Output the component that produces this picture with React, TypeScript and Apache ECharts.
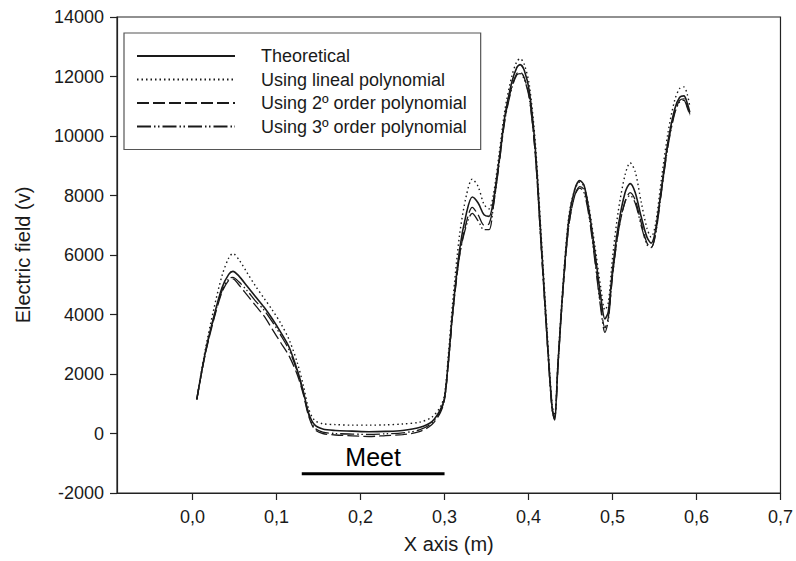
import React, { useEffect, useRef } from 'react';
import * as echarts from 'echarts';

const xValues = [0.005, 0.015, 0.025, 0.035, 0.043, 0.048, 0.055, 0.065, 0.075, 0.085, 0.095, 0.105, 0.115, 0.125, 0.132, 0.138, 0.145, 0.155, 0.17, 0.19, 0.21, 0.23, 0.25, 0.27, 0.285, 0.295, 0.3, 0.305, 0.31, 0.318, 0.326, 0.333, 0.34, 0.347, 0.353, 0.358, 0.365, 0.372, 0.38, 0.386, 0.39, 0.395, 0.401, 0.408, 0.415, 0.422, 0.428, 0.431, 0.435, 0.441, 0.448, 0.455, 0.461, 0.466, 0.472, 0.479, 0.486, 0.491, 0.495, 0.5, 0.507, 0.515, 0.521, 0.527, 0.534, 0.541, 0.546, 0.551, 0.558, 0.566, 0.574, 0.58, 0.585, 0.589, 0.592];

const theoretical = [1150, 2700, 3900, 4900, 5350, 5450, 5300, 4950, 4600, 4250, 3850, 3400, 2900, 2100, 1400, 700, 300, 150, 100, 80, 60, 70, 100, 200, 400, 800, 1200, 2600, 4200, 6200, 7400, 7950, 7750, 7350, 7300, 7800, 9200, 10700, 11800, 12300, 12400, 12200, 11500, 9600, 6500, 3300, 900, 500, 2300, 4900, 7200, 8200, 8500, 8350, 7500, 6100, 4600, 3850, 4100, 5500, 7000, 8100, 8400, 8100, 7300, 6600, 6400, 6800, 8200, 9800, 10900, 11300, 11350, 11100, 10800];

const linealPoly = [1150, 2800, 4150, 5300, 5900, 6050, 5850, 5400, 4950, 4550, 4150, 3700, 3150, 2350, 1600, 850, 450, 330, 300, 280, 280, 290, 320, 380, 550, 900, 1300, 2800, 4500, 6700, 8000, 8550, 8300, 7700, 7550, 8000, 9400, 10900, 12000, 12500, 12600, 12400, 11700, 9800, 6700, 3500, 1000, 600, 2400, 5000, 7300, 8200, 8450, 8300, 7600, 6300, 4900, 4150, 4400, 5900, 7500, 8700, 9100, 8800, 7800, 6900, 6600, 7000, 8500, 10100, 11200, 11600, 11650, 11400, 11000];

const secondOrder = [1150, 2650, 3800, 4750, 5150, 5200, 5000, 4650, 4300, 3950, 3500, 3050, 2600, 1950, 1300, 600, 150, 0, -50, -80, -100, -70, -40, 60, 300, 700, 1150, 2500, 4100, 6000, 7100, 7600, 7350, 7000, 7050, 7650, 9100, 10600, 11650, 12100, 12150, 11950, 11300, 9400, 6300, 3200, 850, 500, 2300, 4800, 7000, 8000, 8300, 8200, 7400, 5900, 4300, 3550, 3900, 5300, 6800, 7800, 8100, 7850, 7100, 6400, 6250, 6700, 8100, 9700, 10800, 11200, 11250, 11000, 10750];

const thirdOrder = [1150, 2700, 3850, 4800, 5200, 5250, 5100, 4800, 4450, 4150, 3750, 3300, 2800, 2050, 1350, 650, 200, 50, 0, -20, -30, -10, 20, 120, 350, 750, 1150, 2500, 4100, 6000, 7000, 7400, 7150, 6850, 6850, 7600, 9050, 10550, 11600, 12050, 12100, 11900, 11250, 9400, 6300, 3200, 800, 450, 2200, 4800, 7000, 8000, 8250, 8100, 7300, 5800, 4200, 3400, 3800, 5300, 6800, 7800, 8000, 7750, 7000, 6350, 6250, 6650, 8050, 9650, 10750, 11150, 11200, 10950, 10700];

const seriesNames = ['Theoretical', 'Using lineal polynomial', 'Using 2º order polynomial', 'Using 3º order polynomial'];
const xTicks = [0, 0.1, 0.2, 0.3, 0.4, 0.5, 0.6, 0.7];
const meetStart = 0.13;
const meetEnd = 0.3;
const meetLevel = -1350;
const meetLabel = 'Meet';

const FONT = '"Liberation Sans", Arial, sans-serif';
const INK = '#1a1a1a';

function pairs(ys: number[]) {
  return xValues.map((x, i) => [x, ys[i]]);
}

export default function App() {
  const ref = useRef<HTMLDivElement>(null);
  useEffect(() => {
    if (!ref.current) return;
    const chart = echarts.init(ref.current, null, { renderer: 'svg' });
    const lineBase = { type: 'line', symbol: 'none', showSymbol: false, smooth: 0.3 };
    chart.setOption({
      animation: false,
      backgroundColor: '#ffffff',
      textStyle: { fontFamily: FONT, color: INK },
      grid: {
        left: 117, top: 17, width: 664, height: 476,
        show: true, borderColor: '#222', borderWidth: 1.2, backgroundColor: 'transparent'
      },
      legend: {
        data: seriesNames,
        orient: 'vertical',
        left: 124, top: 33,
        width: 362,
        padding: [14, 14, 14, 12],
        borderColor: '#555', borderWidth: 1.2,
        backgroundColor: '#fff',
        itemWidth: 98, itemHeight: 14, itemGap: 5.5,
        itemStyle: { opacity: 0 },
        textStyle: { fontFamily: FONT, fontSize: 18, color: INK, lineHeight: 18, padding: [0, 0, 0, 21] },
        selectedMode: false
      },
      xAxis: {
        type: 'value',
        min: -0.09, max: 0.7,
        name: 'X axis (m)', nameLocation: 'middle', nameGap: 41,
        nameTextStyle: { fontFamily: FONT, fontSize: 20, color: INK },
        axisLine: { show: true, onZero: false, lineStyle: { color: '#222', width: 1.2 } },
        axisTick: { show: true, inside: false, length: 7, customValues: xTicks, lineStyle: { color: '#222', width: 1.2 } },
        axisLabel: {
          customValues: xTicks, margin: 15, fontFamily: FONT, fontSize: 18, color: INK,
          formatter: (v: number) => v.toFixed(1).replace('.', ',')
        },
        splitLine: { show: false }
      },
      yAxis: {
        type: 'value',
        min: -2000, max: 14000, interval: 2000,
        name: 'Electric field (v)', nameLocation: 'middle', nameGap: 84,
        nameTextStyle: { fontFamily: FONT, fontSize: 20, color: INK },
        axisLine: { show: true, onZero: false, lineStyle: { color: '#222', width: 1.2 } },
        axisTick: { show: true, inside: false, length: 7, lineStyle: { color: '#222', width: 1.2 } },
        axisLabel: { margin: 13, fontFamily: FONT, fontSize: 18, color: INK, formatter: (v: number) => String(v) },
        splitLine: { show: false }
      },
      series: [
        { ...lineBase, name: seriesNames[1], data: pairs(linealPoly), z: 2, lineStyle: { color: INK, width: 1.4, type: [1.5, 3] }, itemStyle: { color: INK } },
        { ...lineBase, name: seriesNames[2], data: pairs(secondOrder), z: 3, lineStyle: { color: INK, width: 1.3, type: [12, 4] }, itemStyle: { color: INK } },
        { ...lineBase, name: seriesNames[3], data: pairs(thirdOrder), z: 4, lineStyle: { color: INK, width: 1.3, type: [14, 3, 1.5, 2.5, 1.5, 3] }, itemStyle: { color: INK } },
        { ...lineBase, name: seriesNames[0], data: pairs(theoretical), z: 5, lineStyle: { color: INK, width: 1.6, type: 'solid' }, itemStyle: { color: INK } },
        {
          type: 'line', name: 'meet-bar', symbol: 'none', silent: true,
          data: [[meetStart, meetLevel], [meetEnd, meetLevel]],
          lineStyle: { color: '#000', width: 3 }
        },
        {
          type: 'scatter', name: 'meet-label', symbolSize: 0, silent: true,
          itemStyle: { opacity: 1, color: INK },
          data: [[(meetStart + meetEnd) / 2, meetLevel]],
          label: { show: true, position: 'top', distance: 4, formatter: meetLabel, fontFamily: FONT, fontSize: 25, color: '#000', opacity: 1 }
        }
      ]
    });
    return () => chart.dispose();
  }, []);
  return <div ref={ref} style={{ position: 'fixed', left: 0, top: 0, width: 796, height: 561 }} />;
}
